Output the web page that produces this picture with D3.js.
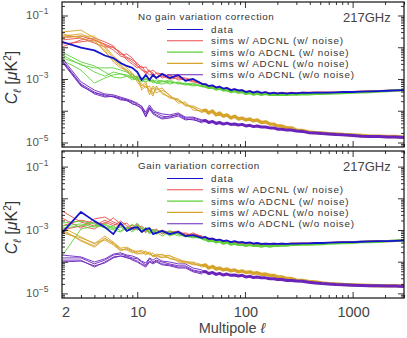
<!DOCTYPE html>
<html><head><meta charset="utf-8">
<script src="https://cdn.jsdelivr.net/npm/d3@7"></script>
<style>
body{margin:0;background:#fff}
svg{display:block}
text{font-family:"Liberation Sans",Arial,Helvetica,sans-serif}
</style>
</head><body>
<svg id="c" width="407" height="338"></svg>
<script>
// ---------- DATA (log10 of C_ell in muK^2) ----------
const ellLow  = [2,3,4,5,6,7,8,9,10,11,12,13,14,15,17,20,24,28,33,40];
const ellHigh = [40,43,46,50,54,58,63,68,74,80,87,94,102,111,120,130,142,155,170,185,200,220,245,270,300,340,390,450,520,600,700,820,1000,1200,1450,1750,2100,2500,3000];
const xTickLabels = [2,10,100,1000];
const yTickLabels = [-1,-3,-5];

// --- Top panel: No gain variation correction ---
const topDataLow  = [-1.83,-2.01,-2.10,-2.26,-2.34,-2.50,-2.59,-2.65,-2.78,-3.03,-2.87,-3.03,-2.87,-2.97,-2.84,-2.97,-2.87,-3.06,-3.00];
const topDataHigh = [-3.16,-3.16,-3.22,-3.20,-3.27,-3.24,-3.30,-3.28,-3.35,-3.32,-3.36,-3.35,-3.41,-3.38,-3.43,-3.39,-3.44,-3.41,-3.46,-3.43,-3.46,-3.44,-3.46,-3.44,-3.45,-3.43,-3.44,-3.43,-3.43,-3.43,-3.42,-3.41,-3.41,-3.40,-3.39,-3.38,-3.37,-3.36,-3.35];
const topRedSims = [
 [-1.68,-1.65,-1.77,-1.93,-2.09,-2.28,-2.34,-2.46,-2.59,-2.72,-2.78,-2.87,-2.84,-2.94,-2.91,-3.00,-2.97,-3.03,-3.09,-3.16],
 [-1.77,-1.71,-1.87,-1.99,-1.99,-2.18,-2.31,-2.40,-2.50,-2.65,-2.62,-2.78,-2.72,-2.81,-2.84,-2.91,-2.94,-2.97,-3.03,-3.13],
 [-1.90,-1.83,-1.77,-1.90,-2.02,-2.15,-2.40,-2.53,-2.65,-2.59,-2.78,-2.72,-2.91,-2.81,-2.97,-2.87,-3.03,-3.00,-3.06,-3.16],
 [-1.99,-1.77,-1.71,-1.83,-1.96,-2.24,-2.21,-2.34,-2.56,-2.69,-2.84,-2.75,-2.81,-2.97,-2.87,-2.97,-2.91,-3.06,-3.00,-3.13]];
const topRedHigh = [-3.16,-3.19,-3.24,-3.22,-3.28,-3.25,-3.32,-3.30,-3.35,-3.33,-3.38,-3.36,-3.41,-3.39,-3.44,-3.41,-3.46,-3.43,-3.46,-3.44,-3.46,-3.44,-3.46,-3.44,-3.45,-3.44,-3.44,-3.43,-3.43,-3.43,-3.43,-3.42,-3.41,-3.40,-3.39,-3.38,-3.37,-3.36,-3.35];
const topGreenSims = [
 [-2.24,-2.56,-2.65,-2.65,-2.65,-2.72,-2.78,-2.87,-2.97,-2.97,-3.03,-3.00,-3.09,-3.03,-3.06,-3.09,-3.13,-3.16,-3.13,-3.22],
 [-2.34,-2.53,-2.78,-2.91,-2.78,-2.84,-2.87,-2.94,-2.91,-3.03,-2.97,-3.09,-3.03,-3.13,-3.09,-3.03,-3.16,-3.13,-3.19,-3.22],
 [-2.40,-2.72,-3.13,-2.97,-2.87,-2.84,-2.91,-2.97,-3.03,-3.09,-3.00,-3.06,-3.03,-3.13,-3.16,-3.09,-3.13,-3.19,-3.16,-3.25],
 [-2.15,-2.46,-2.59,-2.78,-2.94,-2.97,-2.91,-3.03,-2.97,-3.06,-3.09,-3.03,-3.13,-3.09,-3.06,-3.16,-3.09,-3.16,-3.22,-3.19]];
const topGreenHigh = [-3.22,-3.24,-3.28,-3.27,-3.33,-3.30,-3.36,-3.35,-3.41,-3.38,-3.43,-3.41,-3.47,-3.44,-3.49,-3.46,-3.50,-3.47,-3.50,-3.49,-3.50,-3.49,-3.50,-3.49,-3.49,-3.48,-3.48,-3.47,-3.47,-3.46,-3.45,-3.44,-3.43,-3.42,-3.41,-3.39,-3.38,-3.36,-3.35];
const topGoldSims = [
 [-1.52,-1.46,-1.71,-2.02,-2.34,-2.56,-2.72,-2.84,-2.97,-3.22,-3.09,-3.41,-3.22,-3.35,-3.28,-3.54,-3.69,-3.79,-3.91,-4.04],
 [-1.65,-1.58,-1.77,-2.15,-2.40,-2.59,-2.78,-2.91,-3.03,-3.16,-3.28,-3.22,-3.47,-3.28,-3.41,-3.60,-3.66,-3.85,-3.85,-3.98],
 [-1.71,-1.65,-1.65,-1.96,-2.28,-2.46,-2.65,-2.81,-3.09,-3.28,-3.16,-3.50,-3.28,-3.44,-3.35,-3.50,-3.76,-3.72,-3.98,-4.01],
 [-1.58,-1.71,-1.83,-2.09,-2.46,-2.65,-2.72,-2.97,-2.91,-3.35,-3.22,-3.35,-3.54,-3.22,-3.47,-3.57,-3.63,-3.82,-3.88,-4.07]];
const topGoldHigh = [-4.01,-3.98,-4.07,-4.01,-4.13,-4.07,-4.17,-4.13,-4.23,-4.17,-4.26,-4.23,-4.29,-4.26,-4.32,-4.29,-4.37,-4.35,-4.42,-4.42,-4.48,-4.48,-4.54,-4.54,-4.61,-4.62,-4.67,-4.69,-4.70,-4.72,-4.73,-4.75,-4.76,-4.78,-4.80,-4.80,-4.81,-4.81,-4.83];
const topPurpleSims = [
 [-2.34,-3.09,-3.35,-3.47,-3.50,-3.57,-3.63,-3.69,-3.76,-3.88,-4.04,-3.82,-3.98,-4.04,-4.10,-4.13,-4.07,-4.20,-4.20,-4.29],
 [-2.40,-3.16,-3.41,-3.54,-3.54,-3.60,-3.66,-3.72,-3.79,-3.85,-4.10,-3.88,-4.04,-4.07,-4.17,-4.20,-4.10,-4.23,-4.23,-4.32],
 [-2.46,-3.22,-3.44,-3.50,-3.57,-3.63,-3.69,-3.76,-3.85,-3.91,-4.17,-3.91,-4.07,-4.13,-4.23,-4.17,-4.13,-4.26,-4.29,-4.35],
 [-2.43,-3.19,-3.47,-3.57,-3.54,-3.66,-3.66,-3.79,-3.82,-3.95,-4.20,-3.95,-4.10,-4.17,-4.26,-4.23,-4.17,-4.29,-4.26,-4.39]];
const topPurpleHigh = [-4.32,-4.31,-4.37,-4.34,-4.40,-4.37,-4.42,-4.39,-4.43,-4.42,-4.45,-4.43,-4.48,-4.46,-4.50,-4.48,-4.51,-4.51,-4.54,-4.54,-4.58,-4.58,-4.61,-4.61,-4.64,-4.65,-4.69,-4.70,-4.72,-4.73,-4.75,-4.76,-4.78,-4.80,-4.81,-4.81,-4.83,-4.83,-4.84];

// --- Bottom panel: Gain variation correction ---
const botDataLow  = [-3.09,-2.43,-2.72,-2.91,-3.13,-2.78,-3.03,-2.94,-2.91,-3.06,-2.97,-2.94,-3.13,-3.09,-3.03,-3.13,-3.06,-3.19,-3.16];
const botDataHigh = [-3.25,-3.22,-3.28,-3.27,-3.32,-3.30,-3.35,-3.33,-3.38,-3.35,-3.39,-3.38,-3.41,-3.39,-3.43,-3.41,-3.44,-3.43,-3.44,-3.43,-3.44,-3.43,-3.44,-3.43,-3.43,-3.42,-3.42,-3.41,-3.41,-3.40,-3.39,-3.38,-3.38,-3.37,-3.36,-3.35,-3.35,-3.34,-3.33];
const botRedSims = [
 [-2.40,-2.75,-2.87,-2.69,-2.81,-2.87,-2.94,-2.84,-3.00,-2.94,-3.03,-2.97,-3.09,-3.00,-3.06,-3.09,-3.03,-3.16,-3.13,-3.19],
 [-2.62,-2.94,-2.65,-2.59,-2.75,-2.84,-2.78,-2.97,-2.87,-3.03,-2.94,-3.06,-2.97,-3.09,-3.03,-3.06,-3.13,-3.09,-3.19,-3.22],
 [-2.87,-2.69,-2.78,-2.81,-2.62,-2.81,-2.97,-2.91,-2.81,-2.97,-3.09,-2.94,-3.03,-2.97,-3.13,-3.03,-3.09,-3.19,-3.09,-3.22],
 [-3.00,-2.87,-2.97,-2.75,-2.87,-2.72,-2.87,-3.00,-2.94,-2.87,-3.00,-3.09,-3.00,-3.13,-3.00,-3.13,-3.06,-3.13,-3.19,-3.19]];
const botRedHigh = [-3.22,-3.25,-3.28,-3.28,-3.33,-3.32,-3.36,-3.35,-3.39,-3.38,-3.41,-3.39,-3.43,-3.41,-3.44,-3.43,-3.46,-3.44,-3.46,-3.44,-3.46,-3.44,-3.45,-3.43,-3.43,-3.43,-3.43,-3.42,-3.42,-3.41,-3.40,-3.39,-3.38,-3.37,-3.36,-3.35,-3.35,-3.34,-3.33];
const botGreenSims = [
 [-3.82,-2.97,-2.87,-2.81,-2.94,-2.87,-2.97,-2.81,-3.00,-2.91,-3.06,-2.94,-3.03,-3.13,-3.00,-3.16,-3.09,-3.19,-3.22,-3.25],
 [-2.78,-2.72,-2.81,-2.94,-2.87,-3.03,-2.91,-3.00,-2.84,-3.03,-2.94,-3.09,-2.97,-3.06,-3.19,-3.06,-3.19,-3.16,-3.22,-3.28],
 [-2.87,-2.81,-2.91,-2.84,-2.97,-2.91,-3.03,-2.94,-2.78,-2.97,-3.03,-3.00,-3.13,-3.00,-3.09,-3.03,-3.13,-3.22,-3.19,-3.25],
 [-2.94,-2.87,-2.75,-2.91,-3.00,-3.06,-2.94,-3.06,-2.94,-3.09,-2.91,-3.13,-3.00,-3.09,-3.03,-3.19,-3.09,-3.19,-3.25,-3.22]];
const botGreenHigh = [-3.28,-3.30,-3.35,-3.33,-3.39,-3.36,-3.43,-3.39,-3.46,-3.43,-3.47,-3.46,-3.50,-3.47,-3.50,-3.49,-3.52,-3.49,-3.52,-3.50,-3.50,-3.49,-3.49,-3.47,-3.47,-3.46,-3.46,-3.45,-3.44,-3.43,-3.42,-3.41,-3.40,-3.38,-3.38,-3.37,-3.35,-3.34,-3.33];
const botGoldSims = [
 [-2.91,-3.22,-3.44,-3.19,-3.38,-3.57,-3.54,-3.63,-3.69,-3.63,-3.76,-3.69,-3.82,-3.76,-3.79,-3.82,-3.91,-4.01,-4.01,-4.10],
 [-3.03,-3.32,-3.50,-3.25,-3.44,-3.63,-3.60,-3.69,-3.76,-3.72,-3.66,-3.79,-3.72,-3.85,-3.85,-3.88,-3.98,-3.98,-4.07,-4.13],
 [-3.09,-3.25,-3.41,-3.32,-3.47,-3.66,-3.57,-3.66,-3.72,-3.76,-3.69,-3.76,-3.82,-3.79,-3.88,-3.79,-4.01,-4.04,-4.04,-4.17],
 [-2.97,-3.35,-3.54,-3.28,-3.41,-3.60,-3.63,-3.72,-3.66,-3.69,-3.79,-3.72,-3.85,-3.82,-3.76,-3.91,-3.95,-4.01,-4.10,-4.10]];
const botGoldHigh = [-4.13,-4.10,-4.20,-4.15,-4.23,-4.20,-4.26,-4.23,-4.29,-4.26,-4.32,-4.29,-4.34,-4.32,-4.37,-4.35,-4.40,-4.39,-4.43,-4.43,-4.48,-4.48,-4.53,-4.53,-4.58,-4.59,-4.62,-4.64,-4.67,-4.69,-4.70,-4.72,-4.73,-4.74,-4.75,-4.76,-4.76,-4.76,-4.77];
const botPurpleSims = [
 [-3.79,-3.85,-4.01,-3.91,-3.76,-3.72,-3.79,-3.82,-3.88,-3.98,-4.04,-3.88,-3.95,-3.88,-3.98,-4.01,-4.07,-4.07,-4.20,-4.26],
 [-3.88,-3.88,-4.07,-3.95,-3.79,-3.76,-3.82,-3.88,-3.91,-4.01,-4.10,-3.91,-4.01,-3.95,-4.01,-4.07,-4.13,-4.13,-4.26,-4.32],
 [-3.95,-3.95,-4.17,-4.01,-3.85,-3.82,-3.88,-3.91,-3.98,-4.07,-4.13,-3.98,-4.04,-3.98,-4.07,-4.10,-4.17,-4.17,-4.29,-4.35],
 [-4.01,-3.98,-4.13,-4.04,-3.88,-3.82,-3.85,-3.95,-4.01,-4.10,-4.17,-4.01,-4.07,-4.01,-4.10,-4.13,-4.20,-4.20,-4.32,-4.39]];
const botPurpleHigh = [-4.32,-4.31,-4.37,-4.34,-4.40,-4.37,-4.42,-4.39,-4.43,-4.42,-4.45,-4.43,-4.48,-4.46,-4.50,-4.48,-4.51,-4.51,-4.54,-4.54,-4.56,-4.56,-4.59,-4.59,-4.61,-4.62,-4.65,-4.67,-4.69,-4.70,-4.72,-4.73,-4.74,-4.75,-4.76,-4.76,-4.77,-4.77,-4.78];

const legendLabels = ["data","sims w/ ADCNL (w/ noise)","sims w/o ADCNL (w/ noise)","sims w/ ADCNL (w/o noise)","sims w/o ADCNL (w/o noise)"];
const panelTitles = ["No gain variation correction","Gain variation correction"];
const freqLabel = "217GHz";

// ---------- STYLE ----------
const COL = {data:"#1414cc", red:"#ea4b4b", green:"#5fd03a", gold:"#d6a42a", purple:"#6a24bc"};
const legendColors = [COL.data, COL.red, COL.green, COL.gold, COL.purple];
const bandWidth = {red:2.2, green:2.4, gold:3.4, purple:3.0};

const svg = d3.select("#c");
const X0 = 62, X1 = 404;
const x = d3.scaleLog().domain([2,3000]).range([X0,X1]);

const panels = [
  {top:2, bottom:147, dom:[-5.142,-0.575], title:panelTitles[0],
   dataLow:topDataLow, dataHigh:topDataHigh,
   groups:[[topRedSims,topRedHigh,"red"],[topGoldSims,topGoldHigh,"gold"],[topGreenSims,topGreenHigh,"green"],[topPurpleSims,topPurpleHigh,"purple"]]},
  {top:151, bottom:298, dom:[-5.145,-0.508], title:panelTitles[1],
   dataLow:botDataLow, dataHigh:botDataHigh,
   groups:[[botRedSims,botRedHigh,"red"],[botGoldSims,botGoldHigh,"gold"],[botGreenSims,botGreenHigh,"green"],[botPurpleSims,botPurpleHigh,"purple"]]}
];

const zip = (ells, vals) => vals.map((v,i)=>[ells[i], v]).filter(d=>d[0]!==undefined);

const xMajor = [10,100,1000];
const xMinor = [];
[1,10,100,1000].forEach(p=>{for(let k=2;k<=9;k++){const v=k*p; if(v>2&&v<=3000&&!xMajor.includes(v)) xMinor.push(v);}});

panels.forEach((P,pi)=>{
  const y = d3.scaleLog().domain([10**P.dom[0],10**P.dom[1]]).range([P.bottom,P.top]);
  const g = svg.append("g");
  const cid = "clip"+pi;
  svg.append("clipPath").attr("id",cid).append("rect")
     .attr("x",X0).attr("y",P.top).attr("width",X1-X0).attr("height",P.bottom-P.top);
  const plot = g.append("g").attr("clip-path",`url(#${cid})`);
  const line = d3.line().x(d=>x(d[0])).y(d=>y(10**d[1]));

  P.groups.forEach(([sims,high,key])=>{
    const col = COL[key];
    sims.forEach(s=>{
      plot.append("path").attr("d",line(zip(ellLow,s))).attr("fill","none")
        .attr("stroke",col).attr("stroke-width",0.9).attr("stroke-linejoin","round");
    });
    plot.append("path").attr("d",line(zip(ellHigh,high))).attr("fill","none")
      .attr("stroke",col).attr("stroke-width",bandWidth[key]).attr("stroke-linejoin","round");
  });
  const dataPts = zip(ellLow.slice(0,P.dataLow.length),P.dataLow).concat(zip(ellHigh,P.dataHigh));
  plot.append("path").attr("d",line(dataPts)).attr("fill","none")
    .attr("stroke",COL.data).attr("stroke-width",1.8).attr("stroke-linejoin","round");

  // ticks
  const e0 = Math.ceil(P.dom[0]), e1 = Math.floor(P.dom[1]);
  const yMajor = d3.range(e0,e1+1).map(e=>10**e);
  const yMinor = [];
  for(let e=e0-1;e<=e1;e++) for(let k=2;k<=9;k++){const v=k*10**e; if(Math.log10(v)>P.dom[0]&&Math.log10(v)<P.dom[1]) yMinor.push(v);}
  const axes = g.append("g").attr("class","axes");
  const clean = s=>{s.select(".domain").remove(); s.selectAll("line").attr("stroke","#000").attr("stroke-width",0.8);};
  axes.append("g").attr("transform",`translate(${X0},0)`).call(d3.axisLeft(y).tickValues(yMajor).tickSize(-6).tickFormat("")).call(clean);
  axes.append("g").attr("transform",`translate(${X0},0)`).call(d3.axisLeft(y).tickValues(yMinor).tickSize(-3).tickFormat("")).call(clean);
  axes.append("g").attr("transform",`translate(${X1},0)`).call(d3.axisRight(y).tickValues(yMajor).tickSize(-6).tickFormat("")).call(clean);
  axes.append("g").attr("transform",`translate(${X1},0)`).call(d3.axisRight(y).tickValues(yMinor).tickSize(-3).tickFormat("")).call(clean);
  axes.append("g").attr("transform",`translate(0,${P.bottom})`).call(d3.axisBottom(x).tickValues(xMajor).tickSize(-6).tickFormat("")).call(clean);
  axes.append("g").attr("transform",`translate(0,${P.bottom})`).call(d3.axisBottom(x).tickValues(xMinor).tickSize(-3).tickFormat("")).call(clean);
  axes.append("g").attr("transform",`translate(0,${P.top})`).call(d3.axisTop(x).tickValues(xMajor).tickSize(-6).tickFormat("")).call(clean);
  axes.append("g").attr("transform",`translate(0,${P.top})`).call(d3.axisTop(x).tickValues(xMinor).tickSize(-3).tickFormat("")).call(clean);

  g.append("rect").attr("x",X0).attr("y",P.top).attr("width",X1-X0).attr("height",P.bottom-P.top)
    .attr("fill","none").attr("stroke","#111").attr("stroke-width",1.2);

  // y tick labels
  yTickLabels.forEach(e=>{
    const t = g.append("text").attr("x",26).attr("y",y(10**e)+4).attr("font-size",11.5).attr("fill","#555");
    t.append("tspan").text("10");
    t.append("tspan").attr("font-size",8.5).attr("dy",-5).text("\u2212"+Math.abs(e));
  });

  // y axis label
  const yl = g.append("text").attr("transform",`translate(17,${(P.top+P.bottom)/2+3}) rotate(-90)`)
    .attr("text-anchor","middle").attr("font-size",16).attr("fill","#333");
  yl.append("tspan").attr("font-style","italic").text("C");
  yl.append("tspan").attr("font-size",11).attr("font-style","italic").attr("dy",4).text("\u2113");
  yl.append("tspan").attr("dy",-4).text(" [");
  yl.append("tspan").attr("font-style","italic").text("\u03bc");
  yl.append("tspan").text("K");
  yl.append("tspan").attr("font-size",10).attr("dy",-6).text("2");
  yl.append("tspan").attr("dy",6).text("]");

  // title, frequency
  g.append("text").attr("x",138).attr("y",P.top+17.5).attr("font-size",9.8).attr("fill","#333")
    .attr("textLength",P.title.length*4.85).attr("lengthAdjust","spacing").text(P.title);
  g.append("text").attr("x",343).attr("y",P.top+20).attr("font-size",13).attr("fill","#444").text(freqLabel);

  // legend
  legendLabels.forEach((lab,i)=>{
    const yy = P.top + 27.5 + i*11.3;
    g.append("line").attr("x1",167).attr("x2",203).attr("y1",yy).attr("y2",yy)
      .attr("stroke",legendColors[i]).attr("stroke-width",1.1);
    g.append("text").attr("x",211).attr("y",yy+3.5).attr("font-size",9.8).attr("fill","#333")
      .attr("textLength",lab.length*5.5).attr("lengthAdjust","spacing").text(lab);
  });
});

// x tick labels (bottom panel)
xTickLabels.forEach(v=>{
  svg.append("text").attr("x",x(v)+(v===2?4:1)).attr("y",317).attr("text-anchor","middle")
    .attr("font-size",14.5).attr("fill","#444").text(v);
});
const xl = svg.append("text").attr("x",232).attr("y",333).attr("text-anchor","middle").attr("font-size",14.5).attr("fill","#444");
xl.append("tspan").text("Multipole ");
xl.append("tspan").attr("font-style","italic").text("\u2113");
</script>
</body></html>
